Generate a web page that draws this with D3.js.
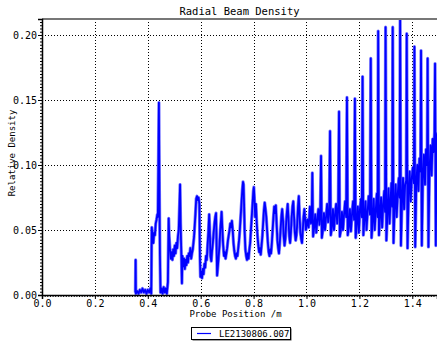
<!DOCTYPE html>
<html lang="en">
<head>
    <meta charset="UTF-8">
    <title>Radial Beam Density</title>
    <script src="https://d3js.org/d3.v7.min.js"></script>
    <style>
        body { margin: 0; background: #fff; }
        text { font-family: "DejaVu Sans Mono", monospace; fill: #000; }
        .grid line { stroke: #000; stroke-dasharray: 1,2; stroke-width: 1; }
    </style>
</head>
<body>
    <svg id="chart" width="437" height="341"></svg>

    <script>
        // Data (position in m, relative density)
        const positions = [
            0.353, 0.354, 0.355, 0.360, 0.365, 0.370, 0.375, 0.380, 0.385, 0.390, 0.395, 0.400, 0.405, 0.410, 0.413,
            0.415, 0.418, 0.421, 0.424, 0.427, 0.430, 0.433, 0.436, 0.438, 0.440, 0.442, 0.444, 0.446, 0.448, 0.452,
            0.456, 0.460, 0.464, 0.468, 0.472, 0.476, 0.479, 0.481, 0.484, 0.487, 0.490, 0.493, 0.496, 0.499, 0.502,
            0.505, 0.508, 0.511, 0.514, 0.517, 0.520, 0.522, 0.524, 0.527, 0.529, 0.531, 0.534, 0.537, 0.540, 0.543,
            0.546, 0.549, 0.552, 0.555, 0.558, 0.561, 0.564, 0.567, 0.570, 0.575, 0.580, 0.583, 0.586, 0.589, 0.592,
            0.595, 0.597, 0.599, 0.602, 0.605, 0.608, 0.611, 0.614, 0.617, 0.620, 0.623, 0.626, 0.629, 0.632, 0.634,
            0.637, 0.640, 0.643, 0.646, 0.649, 0.652, 0.655, 0.658, 0.660, 0.662, 0.665, 0.668, 0.671, 0.674, 0.677,
            0.679, 0.682, 0.685, 0.688, 0.691, 0.694, 0.697, 0.700, 0.703, 0.706, 0.709, 0.712, 0.715, 0.718, 0.721,
            0.724, 0.727, 0.730, 0.733, 0.736, 0.739, 0.742, 0.745, 0.748, 0.751, 0.754, 0.757, 0.760, 0.762, 0.764,
            0.766, 0.769, 0.772, 0.775, 0.778, 0.781, 0.784, 0.787, 0.790, 0.793, 0.796, 0.799, 0.801, 0.803, 0.806,
            0.809, 0.812, 0.815, 0.818, 0.821, 0.824, 0.827, 0.830, 0.833, 0.836, 0.839, 0.842, 0.845, 0.848, 0.851,
            0.854, 0.857, 0.860, 0.863, 0.866, 0.869, 0.872, 0.875, 0.878, 0.881, 0.884, 0.887, 0.890, 0.893, 0.896,
            0.899, 0.902, 0.905, 0.908, 0.911, 0.914, 0.917, 0.920, 0.923, 0.926, 0.929, 0.932, 0.935, 0.938, 0.941,
            0.944, 0.947, 0.950, 0.953, 0.956, 0.959, 0.962, 0.965, 0.968, 0.971, 0.974, 0.977, 0.980, 0.983, 0.986,
            0.989, 0.992, 0.995, 0.998, 1.003, 1.008, 1.013, 1.017, 1.020, 1.022, 1.025, 1.029, 1.033, 1.037, 1.041,
            1.045, 1.049, 1.052, 1.055, 1.058, 1.062, 1.066, 1.070, 1.074, 1.078, 1.082, 1.086, 1.089, 1.092, 1.096,
            1.100, 1.104, 1.108, 1.112, 1.116, 1.120, 1.123, 1.126, 1.130, 1.134, 1.138, 1.142, 1.146, 1.150, 1.153,
            1.156, 1.160, 1.164, 1.168, 1.172, 1.176, 1.180, 1.183, 1.186, 1.190, 1.194, 1.198, 1.202, 1.206, 1.209,
            1.212, 1.215, 1.219, 1.223, 1.227, 1.231, 1.235, 1.240, 1.243, 1.246, 1.250, 1.254, 1.258, 1.262, 1.266,
            1.269, 1.271, 1.274, 1.278, 1.282, 1.286, 1.290, 1.294, 1.297, 1.299, 1.302, 1.306, 1.310, 1.314, 1.318,
            1.321, 1.324, 1.326, 1.329, 1.333, 1.337, 1.341, 1.345, 1.349, 1.352, 1.354, 1.357, 1.361, 1.365, 1.369,
            1.373, 1.377, 1.379, 1.382, 1.386, 1.390, 1.394, 1.398, 1.402, 1.406, 1.408, 1.411, 1.415, 1.419, 1.423,
            1.427, 1.431, 1.433, 1.436, 1.440, 1.444, 1.448, 1.452, 1.456, 1.458, 1.461, 1.465, 1.469, 1.473, 1.477,
            1.481, 1.484, 1.486, 1.489, 1.492, 1.495
        ];
        const density = [
            0.002, 0.027, 0.001, 0.003, 0.001, 0.004, 0.002, 0.005, 0.002, 0.004, 0.001, 0.004, 0.002, 0.005, 0.001,
            0.052, 0.044, 0.040, 0.048, 0.046, 0.055, 0.058, 0.062, 0.060, 0.100, 0.148, 0.080, 0.030, 0.002, 0.005,
            0.001, 0.006, 0.002, 0.005, 0.001, 0.010, 0.059, 0.045, 0.035, 0.028, 0.033, 0.027, 0.035, 0.030, 0.038,
            0.032, 0.040, 0.036, 0.045, 0.050, 0.070, 0.085, 0.055, 0.030, 0.009, 0.030, 0.022, 0.028, 0.020, 0.027,
            0.023, 0.030, 0.025, 0.032, 0.030, 0.036, 0.028, 0.032, 0.035, 0.045, 0.062, 0.074, 0.076, 0.073, 0.075,
            0.070, 0.030, 0.014, 0.018, 0.013, 0.020, 0.016, 0.024, 0.021, 0.030, 0.027, 0.038, 0.048, 0.062, 0.052,
            0.030, 0.026, 0.034, 0.040, 0.048, 0.055, 0.060, 0.063, 0.040, 0.015, 0.022, 0.030, 0.038, 0.050, 0.058,
            0.064, 0.050, 0.038, 0.030, 0.033, 0.028, 0.032, 0.036, 0.042, 0.046, 0.050, 0.055, 0.052, 0.057, 0.050,
            0.040, 0.034, 0.030, 0.028, 0.032, 0.030, 0.036, 0.042, 0.050, 0.060, 0.070, 0.080, 0.087, 0.085, 0.070,
            0.050, 0.035, 0.030, 0.027, 0.032, 0.028, 0.035, 0.040, 0.050, 0.060, 0.070, 0.080, 0.083, 0.075, 0.060,
            0.070, 0.055, 0.045, 0.038, 0.033, 0.036, 0.031, 0.038, 0.045, 0.055, 0.065, 0.071, 0.066, 0.060, 0.050,
            0.040, 0.033, 0.030, 0.035, 0.032, 0.040, 0.050, 0.060, 0.068, 0.063, 0.069, 0.055, 0.042, 0.036, 0.032,
            0.040, 0.050, 0.060, 0.066, 0.058, 0.045, 0.038, 0.043, 0.055, 0.064, 0.070, 0.058, 0.045, 0.040, 0.048,
            0.060, 0.068, 0.072, 0.060, 0.048, 0.042, 0.046, 0.055, 0.068, 0.076, 0.060, 0.048, 0.043, 0.040, 0.050,
            0.060, 0.066, 0.058, 0.050, 0.058, 0.052, 0.068, 0.055, 0.060, 0.094, 0.045, 0.052, 0.062, 0.048, 0.058,
            0.066, 0.054, 0.062, 0.107, 0.044, 0.050, 0.063, 0.050, 0.060, 0.070, 0.056, 0.065, 0.126, 0.046, 0.052,
            0.066, 0.050, 0.062, 0.070, 0.055, 0.068, 0.141, 0.045, 0.050, 0.064, 0.050, 0.062, 0.072, 0.060, 0.152,
            0.046, 0.052, 0.066, 0.049, 0.062, 0.072, 0.058, 0.151, 0.044, 0.055, 0.068, 0.048, 0.066, 0.074, 0.060,
            0.168, 0.046, 0.058, 0.072, 0.050, 0.064, 0.076, 0.062, 0.182, 0.044, 0.056, 0.074, 0.050, 0.066, 0.078,
            0.060, 0.203, 0.046, 0.060, 0.075, 0.052, 0.070, 0.080, 0.064, 0.206, 0.042, 0.062, 0.082, 0.055, 0.074,
            0.086, 0.068, 0.206, 0.040, 0.066, 0.085, 0.060, 0.078, 0.090, 0.075, 0.215, 0.038, 0.070, 0.090, 0.066,
            0.085, 0.088, 0.201, 0.036, 0.078, 0.095, 0.072, 0.090, 0.098, 0.086, 0.191, 0.037, 0.085, 0.100, 0.080,
            0.105, 0.095, 0.188, 0.038, 0.090, 0.108, 0.085, 0.112, 0.100, 0.182, 0.037, 0.095, 0.115, 0.092, 0.120,
            0.110, 0.125, 0.178, 0.038, 0.120, 0.125
        ];
        const xTicks = [0.0, 0.2, 0.4, 0.6, 0.8, 1.0, 1.2, 1.4];
        const yTicks = [0.00, 0.05, 0.10, 0.15, 0.20];
        const seriesName = "LE2130806.007";

        const svg = d3.select("#chart");
        const margin = { top: 19, right: 0, bottom: 46, left: 42 };
        const width = 437 - margin.left - margin.right;
        const height = 341 - margin.top - margin.bottom;

        const x = d3.scaleLinear().domain([0, 1.4934]).range([0, width]);
        const y = d3.scaleLinear().domain([0, 0.2123]).range([height, 0]);

        const g = svg.append("g").attr("transform", `translate(${margin.left},${margin.top})`);

        // Dotted grid at the major ticks
        const grid = g.append("g").attr("class", "grid");
        grid.selectAll(".vx").data(xTicks.filter(d => d > 0)).enter().append("line")
            .attr("x1", d => Math.round(x(d)) + 0.5).attr("x2", d => Math.round(x(d)) + 0.5)
            .attr("y1", 0).attr("y2", height);
        grid.selectAll(".hy").data(yTicks.filter(d => d > 0)).enter().append("line")
            .attr("x1", 0).attr("x2", width)
            .attr("y1", d => Math.round(y(d)) + 0.5).attr("y2", d => Math.round(y(d)) + 0.5);

        // Data line: a pale halo under the main stroke mimics the noisy trace
        svg.append("clipPath").attr("id", "clip").append("rect")
            .attr("width", width).attr("height", height + 1);
        const line = d3.line().x((d, i) => x(positions[i])).y(d => y(d));
        g.append("path")
            .datum(density)
            .attr("clip-path", "url(#clip)")
            .attr("fill", "none")
            .attr("stroke", "#7a7aff")
            .attr("stroke-width", 3.2)
            .attr("stroke-linejoin", "round")
            .attr("d", line);
        g.append("path")
            .datum(density)
            .attr("clip-path", "url(#clip)")
            .attr("fill", "none")
            .attr("stroke", "#0000ff")
            .attr("stroke-width", 1.8)
            .attr("stroke-linejoin", "round")
            .attr("d", line);

        // Top frame
        g.append("line").attr("x1", 0).attr("x2", width).attr("y1", 0).attr("y2", 0)
            .attr("stroke", "#777").attr("stroke-width", 2);

        // Axes
        const xAxis = d3.axisBottom(x).tickValues(xTicks).tickFormat(d3.format(".1f")).tickSize(4).tickPadding(1);
        const yAxis = d3.axisLeft(y).tickValues(yTicks).tickFormat(d3.format(".2f")).tickSize(4).tickPadding(1);
        const xMinor = d3.axisBottom(x).tickValues(d3.range(0, 1.49, 0.01)).tickSize(2).tickFormat("");
        const yMinor = d3.axisLeft(y).tickValues(d3.range(0, 0.212, 0.0025)).tickSize(2).tickFormat("");

        g.append("g").attr("transform", `translate(0,${height})`).call(xMinor)
            .call(s => s.select(".domain").remove());
        g.append("g").call(yMinor).call(s => s.select(".domain").remove());

        const gx = g.append("g").attr("transform", `translate(0,${height})`).call(xAxis);
        gx.select(".domain").attr("stroke-width", 1.5);
        gx.selectAll("text").style("font-size", "10px");
        const gy = g.append("g").call(yAxis);
        gy.select(".domain").attr("stroke-width", 1.5);
        gy.selectAll("text").style("font-size", "10px");

        // Titles
        svg.append("text").attr("x", margin.left + width / 2).attr("y", 15)
            .attr("text-anchor", "middle").style("font-size", "10.5px").text("Radial Beam Density");
        svg.append("text").attr("x", margin.left + width / 2 - 4).attr("y", 317)
            .attr("text-anchor", "middle").style("font-size", "9px").text("Probe Position /m");
        svg.append("text").attr("transform", "translate(15,153) rotate(-90)")
            .attr("text-anchor", "middle").style("font-size", "9px").text("Relative Density");

        // Legend
        const lg = svg.append("g").attr("transform", "translate(191,327)");
        lg.append("rect").attr("x", 1.5).attr("y", 1.5).attr("width", 99).attr("height", 12).attr("fill", "#444");
        lg.append("rect").attr("x", 0.5).attr("y", 0.5).attr("width", 99).attr("height", 12)
            .attr("fill", "#fff").attr("stroke", "#000");
        lg.append("line").attr("x1", 6).attr("x2", 20).attr("y1", 6.5).attr("y2", 6.5)
            .attr("stroke", "#0000ff").attr("stroke-width", 1.2);
        lg.append("text").attr("x", 28).attr("y", 10).style("font-size", "9px").text(seriesName);
    </script>
</body>
</html>
